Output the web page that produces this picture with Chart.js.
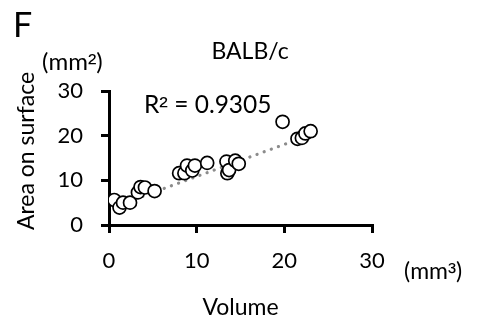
<!DOCTYPE html>
<html>
<head>
<meta charset="utf-8">
<script src="https://cdn.jsdelivr.net/npm/chart.js@4.4.1/dist/chart.umd.min.js"></script>
<style>
  html, body { margin: 0; padding: 0; background: #fff; }
  #wrap { width: 487px; height: 320px; position: relative; }
</style>
</head>
<body>
<div id="wrap"><canvas id="c" width="487" height="320"></canvas></div>
<script>
const volume = [0.6, 1.2, 1.6, 2.4, 3.3, 3.6, 4.1, 5.2,
                8.0, 8.6, 8.9, 9.5, 9.8, 11.2,
                13.4, 13.5, 13.7, 14.4, 14.8,
                19.8, 21.5, 22.0, 22.4, 23.0];
const area   = [5.6, 3.9, 5.0, 5.0, 7.3, 8.5, 8.4, 7.6,
                11.6, 11.6, 13.3, 12.2, 13.3, 13.9,
                14.2, 11.6, 12.3, 14.4, 13.7,
                23.1, 19.3, 19.5, 20.5, 21.0];
const trendX = [0.6, 23.0];
const trendY = [4.1, 20.2];
const xTicks = [0, 10, 20, 30];
const yTicks = [0, 10, 20, 30];
const panelLabel = "F";
const strainLabel = "BALB/c";
const r2Label = "R² = 0.9305";
const yTitle = "Area on surface";
const yUnit = "(mm²)";
const xTitle = "Volume";
const xUnit = "(mm³)";

const FONT = "Lato, 'Open Sans', sans-serif";
const SUPFONT = "'Liberation Sans', Arial, sans-serif";

// draw text, rendering superscript digits with a font that has larger superscripts
function drawMixed(ctx, text, x, y, size) {
  let cx = x;
  for (const ch of text) {
    const sup = (ch === '²' || ch === '³');
    ctx.font = (sup ? (size * 1.05) + "px " + SUPFONT : size + "px " + FONT);
    ctx.fillText(ch, cx, y + (sup ? 1 : 0));
    cx += ctx.measureText(ch).width;
  }
}

const textPlugin = {
  id: 'texts',
  afterDraw(chart) {
    const ctx = chart.ctx;
    const a = chart.chartArea;
    ctx.save();
    ctx.fillStyle = '#000';
    ctx.textBaseline = 'alphabetic';
    ctx.textAlign = 'left';
    ctx.font = "34px " + FONT;
    ctx.fillText(panelLabel, 13, 37);
    drawMixed(ctx, yUnit, 42, 70, 24);
    drawMixed(ctx, r2Label, 144, 113, 24.5);
    drawMixed(ctx, xUnit, 404, 279, 23);
    ctx.font = "23px " + FONT;
    ctx.textAlign = 'center';
    ctx.fillText(strainLabel, 250, 59);
    ctx.fillText(xTitle, (a.left + a.right) / 2, 315);
    ctx.translate(34, 151);
    ctx.rotate(-Math.PI / 2);
    ctx.fillText(yTitle, 0, 0);
    ctx.restore();
  }
};

new Chart(document.getElementById('c'), {
  type: 'scatter',
  data: {
    datasets: [
      {
        type: 'line',
        data: trendX.map((x, i) => ({ x: x, y: trendY[i] })),
        borderColor: '#8c8c8c',
        borderWidth: 3.2,
        borderDash: [0.1, 7.5],
        borderCapStyle: 'round',
        pointRadius: 0,
        fill: false,
        order: 2
      },
      {
        data: volume.map((x, i) => ({ x: x, y: area[i] })),
        backgroundColor: '#ffffff',
        borderColor: '#000000',
        borderWidth: 1.7,
        pointRadius: 6.5,
        pointHoverRadius: 6.5,
        order: 1
      }
    ]
  },
  options: {
    responsive: false,
    animation: false,
    events: [],
    layout: { padding: { top: 91, right: 115, left: 0, bottom: 0 } },
    plugins: { legend: { display: false }, tooltip: { enabled: false } },
    scales: {
      x: {
        type: 'linear',
        min: 0, max: 30,
        afterBuildTicks: s => { s.ticks = xTicks.map(v => ({ value: v })); },
        afterFit: s => { s.height = 95; },
        ticks: { color: '#000', font: { size: 22, family: FONT }, padding: 15 },
        grid: { display: true, drawOnChartArea: false, drawTicks: true, tickLength: 8, color: '#000', lineWidth: 3 },
        border: { display: true, color: '#000', width: 3 }
      },
      y: {
        type: 'linear',
        min: 0, max: 30,
        afterBuildTicks: s => { s.ticks = yTicks.map(v => ({ value: v })); },
        afterFit: s => { s.width = 109; },
        ticks: { color: '#000', font: { size: 22, family: FONT }, padding: 18 },
        grid: { display: true, drawOnChartArea: false, drawTicks: true, tickLength: 8, color: '#000', lineWidth: 3 },
        border: { display: true, color: '#000', width: 3 }
      }
    }
  },
  plugins: [textPlugin]
});
</script>
</body>
</html>
